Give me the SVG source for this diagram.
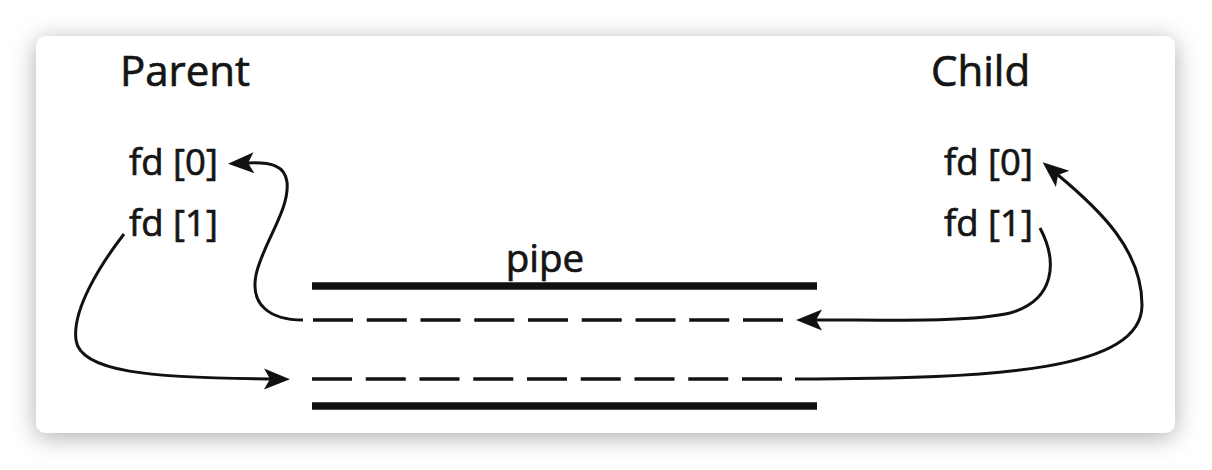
<svg xmlns="http://www.w3.org/2000/svg" width="1212" height="470" viewBox="0 0 1212 470">
  <defs>
    <filter id="shadow" x="-10%" y="-20%" width="120%" height="140%">
      <feDropShadow dx="0" dy="4" stdDeviation="12" flood-color="#000" flood-opacity="0.32"/>
    </filter>
    <marker id="ah" markerUnits="userSpaceOnUse" viewBox="-27 -12 30 24" markerWidth="30" markerHeight="24" refX="-20" refY="0" orient="auto" overflow="visible">
      <path d="M0,0 L-26,-10.5 L-20,0 L-26,10.5 Z" fill="#111"/>
    </marker>
    <style>
      .t { font-family: "Open Sans", "Noto Sans", sans-serif; fill: #151515; stroke: #151515; stroke-width: 0.7; font-weight: 500; }
      .title { font-size: 42px; }
      .fd { font-size: 36.5px; }
      .lbl { font-size: 38.5px; }
      .wall { stroke: #111; stroke-width: 7.5; fill: none; }
      .dash { stroke: #111; stroke-width: 3.5; fill: none; stroke-dasharray: 40 13.75; }
      .conn { stroke: #111; stroke-width: 3; fill: none; marker-end: url(#ah); }
    </style>
  </defs>
  <rect width="1212" height="470" fill="#ffffff"/>
  <rect x="36" y="36" width="1139" height="397" rx="10" fill="#ffffff" filter="url(#shadow)"/>

  <g id="parent">
    <text class="t title" x="120" y="86">Parent</text>
    <text class="t fd" x="129" y="175">fd [0]</text>
    <text class="t fd" x="129" y="236">fd [1]</text>
  </g>

  <g id="child">
    <text class="t title" x="931" y="86">Child</text>
    <text class="t fd" x="944" y="175">fd [0]</text>
    <text class="t fd" x="944" y="236">fd [1]</text>
  </g>

  <g id="pipe">
    <text class="t lbl" x="545" y="272" text-anchor="middle">pipe</text>
    <line class="wall" x1="312" y1="286" x2="817" y2="286"/>
    <line class="dash" x1="313" y1="320" x2="783" y2="320"/>
    <line class="dash" x1="312" y1="379" x2="782" y2="379"/>
    <line class="wall" x1="312" y1="406" x2="817" y2="406"/>
  </g>

  <g id="connectors">
    <path class="conn" d="M303,320 C270,320 250,305 256,275 C262,245 290,210 287,182 C285,166 272,162 248,163"/>
    <path class="conn" d="M124,234 C100,265 72,310 76,340 C80,372 150,378 270,379"/>
    <path class="conn" d="M1040,228 C1058,262 1055,300 1010,313 C970,322 900,320 816,320"/>
    <path class="conn" d="M795,379 C1000,379 1142,370 1142,305 C1142,250 1100,210 1058,175"/>
  </g>
</svg>
